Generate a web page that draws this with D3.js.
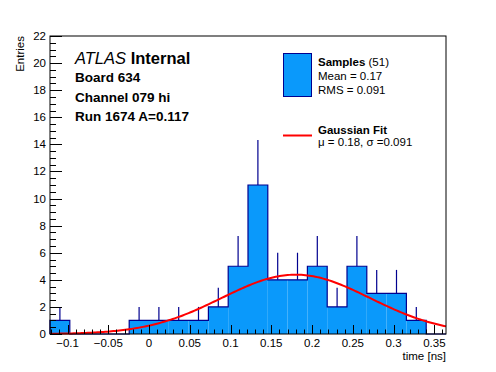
<!DOCTYPE html>
<html>
<head>
<meta charset="utf-8">
<script src="https://cdn.jsdelivr.net/npm/d3@7"></script>
<style>
  html, body { margin: 0; padding: 0; background: #fff; }
  svg { display: block; font-family: "Liberation Sans", Arial, sans-serif; }
</style>
</head>
<body>
<div id="chart"></div>
<script>
// histogram contents (20 bins over the full x range)
const binCounts = [1, 0, 0, 0, 1, 1, 1, 1, 2, 5, 11, 4, 4, 5, 2, 5, 3, 3, 1, 0];
const xRange = [-0.1215, 0.3643];
const xMajorTicks = [-0.1, -0.05, 0, 0.05, 0.1, 0.15, 0.2, 0.25, 0.3, 0.35];
const yMajorTicks = [0, 2, 4, 6, 8, 10, 12, 14, 16, 18, 20, 22];
const yRange = [0, 22];
// gaussian fit parameters
const fitMean = 0.18;
const fitSigma = 0.091;
const fitAmplitude = 4.38;
const infoLines = ['Board 634', 'Channel 079 hi', 'Run 1674 A=0.117'];
const statLines = ['Mean = 0.17', 'RMS = 0.091'];

const W = 496, H = 372;
const frame = { left: 50, right: 446, top: 36, bottom: 334 };
const fillColor = '#0a99fb';
const edgeColor = '#00008f';

const svg = d3.select('#chart')
  .append('svg')
  .attr('width', W)
  .attr('height', H);

const x = d3.scaleLinear().domain(xRange).range([frame.left, frame.right]);
const y = d3.scaleLinear().domain(yRange).range([frame.bottom, frame.top]);

const nBins = binCounts.length;
const binWidth = (xRange[1] - xRange[0]) / nBins;
const bins = binCounts.map((c, i) => ({
  x0: xRange[0] + i * binWidth,
  x1: xRange[0] + (i + 1) * binWidth,
  count: c
}));

// filled bars
svg.append('g')
  .selectAll('rect')
  .data(bins.filter(d => d.count > 0))
  .join('rect')
  .attr('x', d => x(d.x0))
  .attr('y', d => y(d.count))
  .attr('width', d => x(d.x1) - x(d.x0))
  .attr('height', d => y(0) - y(d.count))
  .attr('fill', fillColor);

// step outline
const stepPoints = [[x(bins[0].x0), y(0)]];
bins.forEach(d => {
  stepPoints.push([x(d.x0), y(d.count)]);
  stepPoints.push([x(d.x1), y(d.count)]);
});
stepPoints.push([x(bins[nBins - 1].x1), y(0)]);

svg.append('path')
  .attr('d', d3.line()(stepPoints))
  .attr('fill', 'none')
  .attr('stroke', edgeColor)
  .attr('stroke-width', 1.2);

// error bars (upper half visible above the fill)
svg.append('g')
  .selectAll('line')
  .data(bins.filter(d => d.count > 0))
  .join('line')
  .attr('x1', d => x((d.x0 + d.x1) / 2))
  .attr('x2', d => x((d.x0 + d.x1) / 2))
  .attr('y1', d => y(d.count))
  .attr('y2', d => y(d.count + Math.sqrt(d.count)))
  .attr('stroke', edgeColor)
  .attr('stroke-width', 1.2);

// gaussian fit curve
const gauss = v => fitAmplitude * Math.exp(-0.5 * ((v - fitMean) / fitSigma) ** 2);
const curveX = d3.range(0, 201).map(i => xRange[0] + i * (xRange[1] - xRange[0]) / 200);
svg.append('path')
  .attr('d', d3.line().x(v => x(v)).y(v => y(gauss(v)))(curveX))
  .attr('fill', 'none')
  .attr('stroke', '#ff0000')
  .attr('stroke-width', 2);

// frame
svg.append('rect')
  .attr('x', frame.left)
  .attr('y', frame.top)
  .attr('width', frame.right - frame.left)
  .attr('height', frame.bottom - frame.top)
  .attr('fill', 'none')
  .attr('stroke', '#000')
  .attr('stroke-width', 1);

// x ticks (inside the frame)
const xMinor = d3.range(-12, 37).map(i => i / 100).filter(v => v >= xRange[0] && v <= xRange[1]);
const axes = svg.append('g').attr('stroke', '#000').attr('stroke-width', 1);
axes.selectAll('.xtick')
  .data(xMinor)
  .join('line')
  .attr('class', 'xtick')
  .attr('x1', v => Math.round(x(v)) + 0.5)
  .attr('x2', v => Math.round(x(v)) + 0.5)
  .attr('y1', frame.bottom)
  .attr('y2', v => frame.bottom - (Math.abs(Math.round(v * 100)) % 5 === 0 ? 9 : 4.5));

const yMinor = d3.range(0, 45).map(i => i / 2);
axes.selectAll('.ytick')
  .data(yMinor)
  .join('line')
  .attr('class', 'ytick')
  .attr('y1', v => Math.round(y(v)) + 0.5)
  .attr('y2', v => Math.round(y(v)) + 0.5)
  .attr('x1', frame.left)
  .attr('x2', v => frame.left + (v % 2 === 0 ? 12 : 6));

// tick labels
svg.append('g')
  .selectAll('text')
  .data(xMajorTicks)
  .join('text')
  .attr('x', v => x(v))
  .attr('y', 347)
  .attr('text-anchor', 'middle')
  .attr('font-size', 11.5)
  .text(v => (v < 0 ? '\u2212' + Math.abs(v) : String(v)));

svg.append('g')
  .selectAll('text')
  .data(yMajorTicks)
  .join('text')
  .attr('x', 46)
  .attr('y', v => y(v) + 4)
  .attr('text-anchor', 'end')
  .attr('font-size', 11.5)
  .text(v => v);

svg.append('text')
  .attr('x', frame.right)
  .attr('y', 360)
  .attr('text-anchor', 'end')
  .attr('font-size', 11.5)
  .text('time [ns]');

svg.append('text')
  .attr('transform', `translate(23.5,${frame.top}) rotate(-90)`)
  .attr('text-anchor', 'end')
  .attr('font-size', 11.5)
  .text('Entries');

// ATLAS label block
const atlas = svg.append('text')
  .attr('x', 75)
  .attr('y', 63.5)
  .attr('font-size', 16.5);
atlas.append('tspan').attr('font-style', 'italic').text('ATLAS');
atlas.append('tspan').attr('font-weight', 'bold').text(' Internal');

svg.append('g')
  .selectAll('text')
  .data(infoLines)
  .join('text')
  .attr('x', 75)
  .attr('y', (d, i) => 82 + i * 19.5)
  .attr('font-size', 13.5)
  .attr('font-weight', 'bold')
  .text(d => d);

// legend
const legend = svg.append('g');
legend.append('rect')
  .attr('x', 283.5)
  .attr('y', 53.5)
  .attr('width', 28)
  .attr('height', 43)
  .attr('fill', fillColor)
  .attr('stroke', edgeColor)
  .attr('stroke-width', 1);

const sampTitle = legend.append('text')
  .attr('x', 318)
  .attr('y', 66)
  .attr('font-size', 11.5);
sampTitle.append('tspan').attr('font-weight', 'bold').text('Samples');
sampTitle.append('tspan').text(' (51)');

legend.selectAll('.stat')
  .data(statLines)
  .join('text')
  .attr('class', 'stat')
  .attr('x', 318)
  .attr('y', (d, i) => 80 + i * 14)
  .attr('font-size', 11.5)
  .text(d => d);

legend.append('line')
  .attr('x1', 283)
  .attr('x2', 312)
  .attr('y1', 135.5)
  .attr('y2', 135.5)
  .attr('stroke', '#ff0000')
  .attr('stroke-width', 2);

legend.append('text')
  .attr('x', 318)
  .attr('y', 133.5)
  .attr('font-size', 11.5)
  .attr('font-weight', 'bold')
  .text('Gaussian Fit');

legend.append('text')
  .attr('x', 318)
  .attr('y', 145.5)
  .attr('font-size', 11.5)
  .text(`\u03bc = ${fitMean}, \u03c3 =${fitSigma}`);
</script>
</body>
</html>
